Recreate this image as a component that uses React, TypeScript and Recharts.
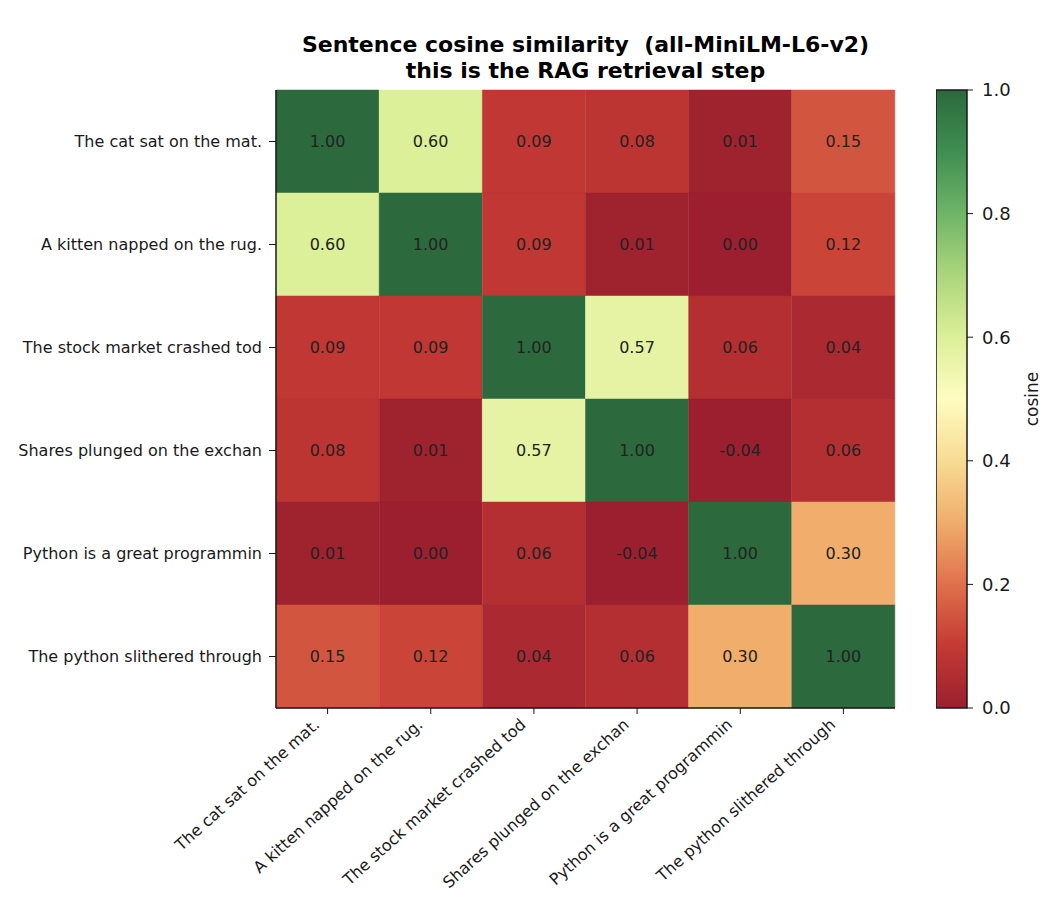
import React from "react";
import {
  BarChart,
  Bar,
  XAxis,
  YAxis,
  Cell,
  LabelList,
} from "recharts";

const SENTENCES = [
  "The cat sat on the mat.",
  "A kitten napped on the rug.",
  "The stock market crashed tod",
  "Shares plunged on the exchan",
  "Python is a great programmin",
  "The python slithered through",
];

// cosine similarity, row i vs column j
const ROW_CAT = [1.0, 0.6, 0.09, 0.08, 0.01, 0.15];
const ROW_KITTEN = [0.6, 1.0, 0.09, 0.01, 0.0, 0.12];
const ROW_STOCK = [0.09, 0.09, 1.0, 0.57, 0.06, 0.04];
const ROW_SHARES = [0.08, 0.01, 0.57, 1.0, -0.04, 0.06];
const ROW_PYLANG = [0.01, 0.0, 0.06, -0.04, 1.0, 0.3];
const ROW_PYSNAKE = [0.15, 0.12, 0.04, 0.06, 0.3, 1.0];
const MATRIX = [ROW_CAT, ROW_KITTEN, ROW_STOCK, ROW_SHARES, ROW_PYLANG, ROW_PYSNAKE];

const CBAR_TICKS = [0, 0.2, 0.4, 0.6, 0.8, 1.0];

// RdYlGn-like ramp, 0 -> 1
const CMAP = [
  "#9b1f2f",
  "#c43a33",
  "#e0704c",
  "#f0ad6c",
  "#f8db93",
  "#fefcc1",
  "#dcef99",
  "#acd67c",
  "#6fb468",
  "#3f8e51",
  "#2c693d",
];

function hexToRgb(h: string) {
  const n = parseInt(h.slice(1), 16);
  return [(n >> 16) & 255, (n >> 8) & 255, n & 255];
}

function colorFor(v: number) {
  const t = Math.max(0, Math.min(1, v)) * (CMAP.length - 1);
  const i = Math.min(Math.floor(t), CMAP.length - 2);
  const f = t - i;
  const a = hexToRgb(CMAP[i]);
  const b = hexToRgb(CMAP[i + 1]);
  const c = a.map((x, k) => Math.round(x + (b[k] - x) * f));
  return `rgb(${c[0]},${c[1]},${c[2]})`;
}

// one stacked unit block per row, per column
const heatData = SENTENCES.map((s, j) => {
  const o: Record<string, number | string> = { col: s };
  MATRIX.forEach((row, i) => {
    o[`r${i}`] = 1;
    o[`v${i}`] = row[j];
  });
  return o;
});

const cbarData = [{ name: "cbar", v: 1 }];

const FONT = "DejaVu Sans, sans-serif";
const INK = "#1a1a1a";

function XTick(props: any) {
  const { x, y, payload } = props;
  return (
    <text
      transform={`translate(${x - 7},${y + 10}) rotate(-42)`}
      textAnchor="end"
      fontSize={16}
      fill={INK}
      fontFamily={FONT}
    >
      {payload.value}
    </text>
  );
}

function CosineLabel(props: any) {
  const { viewBox } = props;
  const cx = viewBox.x + viewBox.width - 16;
  const cy = viewBox.y + viewBox.height / 2;
  return (
    <text
      transform={`translate(${cx},${cy}) rotate(-90)`}
      textAnchor="middle"
      fontSize={17}
      fill={INK}
      fontFamily={FONT}
    >
      cosine
    </text>
  );
}

export default function App() {
  return (
    <div style={{ position: "relative", width: 1046, height: 900, fontFamily: FONT }}>
      <div
        style={{
          position: "absolute",
          left: 268,
          width: 619,
          top: 24,
          textAlign: "center",
          fontWeight: "bold",
          fontSize: 22,
          lineHeight: "26px",
          color: "#000",
        }}
      >
        Sentence cosine similarity&nbsp;&nbsp;(all-MiniLM-L6-v2)
        <br />
        this is the RAG retrieval step
      </div>

      <div style={{ position: "absolute", left: 0, top: 0 }}>
        <BarChart
          width={1046}
          height={900}
          data={heatData}
          margin={{ top: 82, right: 159, bottom: 20, left: 0 }}
          barCategoryGap={0}
          barGap={0}
        >
          <XAxis
            dataKey="col"
            interval={0}
            height={180}
            tick={<XTick />}
            tickSize={6}
            tickMargin={2}
            tickLine={{ stroke: INK }}
            axisLine={{ stroke: INK, strokeWidth: 1.5 }}
          />
          <XAxis
            xAxisId="top"
            orientation="top"
            dataKey="col"
            height={0}
            tick={false}
            tickLine={false}
            axisLine={{ stroke: INK, strokeWidth: 1.5 }}
          />
          <YAxis
            type="number"
            domain={[0, 6]}
            reversed
            ticks={[0.5, 1.5, 2.5, 3.5, 4.5, 5.5]}
            tickFormatter={(v: number) => SENTENCES[Math.floor(v)]}
            width={268}
            interval={0}
            tickSize={7}
            tickMargin={7}
            tick={{ fontSize: 16, fill: INK, fontFamily: FONT }}
            tickLine={{ stroke: INK }}
            axisLine={{ stroke: INK, strokeWidth: 1.5 }}
          />
          <YAxis
            yAxisId="right"
            orientation="right"
            type="number"
            domain={[0, 1]}
            width={0}
            tick={false}
            tickLine={false}
            axisLine={{ stroke: INK, strokeWidth: 1.5 }}
          />
          {MATRIX.map((row, i) => (
            <Bar key={i} dataKey={`r${i}`} stackId="m" isAnimationActive={false}>
              {row.map((v, j) => (
                <Cell key={j} fill={colorFor(v)} stroke={colorFor(v)} strokeWidth={0.5} />
              ))}
              <LabelList
                dataKey={`v${i}`}
                position="center"
                formatter={(v: any) => Number(v).toFixed(2)}
                fill="#222"
                fontSize={16}
                fontFamily={FONT}
              />
            </Bar>
          ))}
        </BarChart>
      </div>

      <div style={{ position: "absolute", left: 928, top: 0 }}>
        <BarChart
          width={118}
          height={900}
          data={cbarData}
          margin={{ top: 82, right: 0, bottom: 200, left: 0 }}
          barCategoryGap={0}
        >
          <defs>
            <linearGradient id="cbarGrad" x1="0" y1="1" x2="0" y2="0">
              {CMAP.map((c, k) => (
                <stop key={k} offset={`${(k / (CMAP.length - 1)) * 100}%`} stopColor={c} />
              ))}
            </linearGradient>
          </defs>
          <XAxis dataKey="name" hide />
          <YAxis
            orientation="right"
            type="number"
            domain={[0, 1]}
            ticks={CBAR_TICKS}
            interval={0}
            width={87}
            tickFormatter={(v: number) => v.toFixed(1)}
            tickSize={6}
            tickMargin={9}
            tick={{ fontSize: 18, fill: INK, fontFamily: FONT }}
            tickLine={{ stroke: INK }}
            axisLine={false}
            label={<CosineLabel />}
          />
          <Bar
            dataKey="v"
            fill="url(#cbarGrad)"
            stroke={INK}
            strokeWidth={1.5}
            isAnimationActive={false}
          />
        </BarChart>
      </div>
    </div>
  );
}
